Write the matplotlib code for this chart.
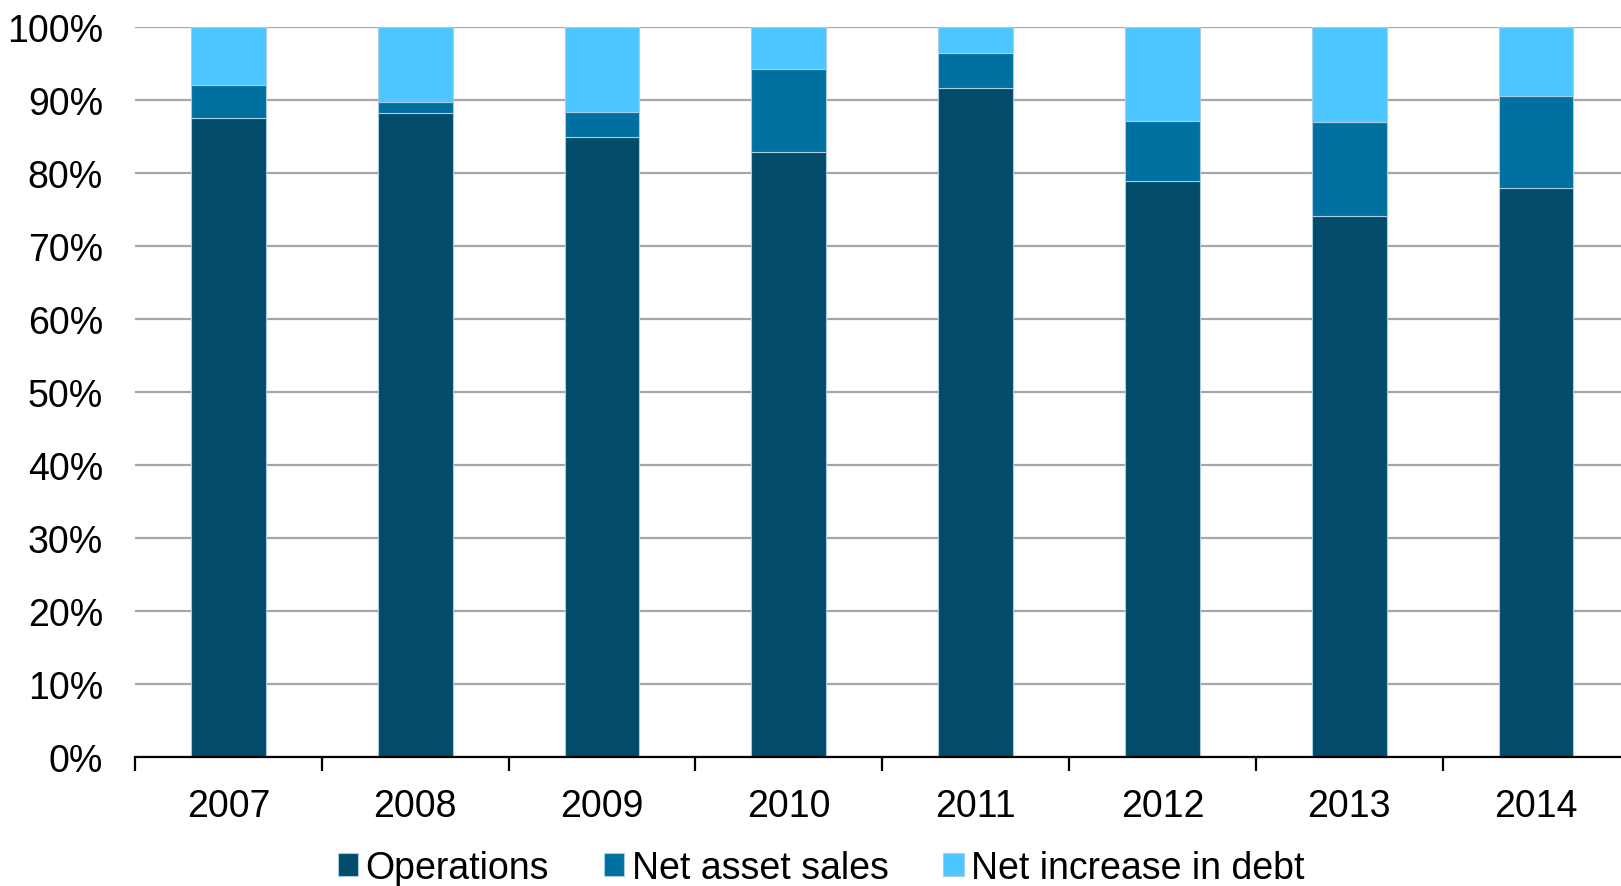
import numpy as np
import matplotlib
matplotlib.use('Agg')
import matplotlib.pyplot as plt
from matplotlib.ticker import FixedLocator

years = ['2007', '2008', '2009', '2010', '2011', '2012', '2013', '2014']
operations = [87.5, 88.2, 85.0, 82.9, 91.6, 78.9, 74.1, 78.0]
asset_sales = [4.6, 1.5, 3.4, 11.3, 4.9, 8.2, 12.9, 12.5]
debt = [100 - o - a for o, a in zip(operations, asset_sales)]

labels = ['Operations', 'Net asset sales', 'Net increase in debt']
colors = ['#024B6A', '#0070A0', '#4DC7FF']

plt.rcParams['font.family'] = ['Liberation Sans', 'DejaVu Sans']

W, H = 1621, 887
fig = plt.figure(figsize=(W / 100, H / 100), dpi=100)
cat_w = 186.8
ax = fig.add_axes([135 / W, (H - 758) / H, 8 * cat_w / W, 730 / H])

x = np.arange(len(years))
bw = 0.4
edge = '#A8CDE3'
b1 = ax.bar(x, operations, bw, color=colors[0], edgecolor=edge, linewidth=0.8, zorder=3)
b2 = ax.bar(x, asset_sales, bw, bottom=operations, color=colors[1], edgecolor=edge, linewidth=0.8, zorder=3)
bottom2 = [o + a for o, a in zip(operations, asset_sales)]
b3 = ax.bar(x, debt, bw, bottom=bottom2, color=colors[2], edgecolor=edge, linewidth=0.8, zorder=3)

ax.set_xlim(-0.5, len(years) - 0.5)
ax.set_ylim(0, 100)
ax.set_yticks(np.arange(0, 101, 10))
ax.set_yticklabels(['{0}%'.format(v) for v in range(0, 101, 10)], fontsize=27)
ax.tick_params(axis='y', length=0, pad=23)
ax.yaxis.grid(True, color='#A6A6A6', linewidth=1.6, zorder=0)
ax.set_axisbelow(True)

ax.set_xticks(x)
ax.set_xticklabels(years, fontsize=27)
ax.xaxis.set_minor_locator(FixedLocator(np.arange(-0.5, len(years), 1.0)))
ax.tick_params(axis='x', which='major', length=0, pad=22)
ax.tick_params(axis='x', which='minor', length=10, width=1.6, color='black', direction='out')

for s in ['left', 'right', 'top']:
    ax.spines[s].set_visible(False)
ax.spines['bottom'].set_linewidth(1.6)
ax.spines['bottom'].set_zorder(4)

fig.legend([b1, b2, b3], labels, loc='center', bbox_to_anchor=(821 / W, 18 / H),
           ncol=3, frameon=False, fontsize=27, handlelength=0.55, handleheight=0.55,
           handletextpad=0.2, columnspacing=1.45, borderaxespad=0, borderpad=0)

fig.savefig('out.png', dpi=100)
